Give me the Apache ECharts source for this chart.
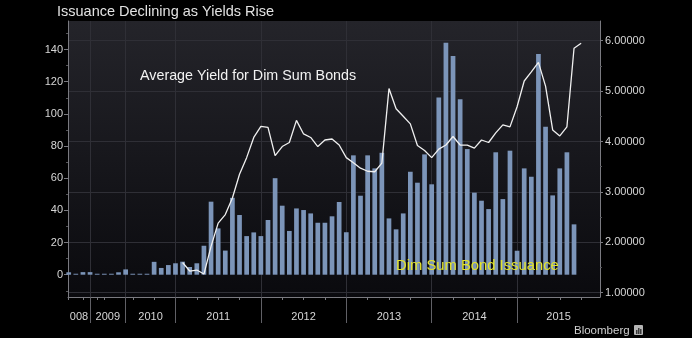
<!DOCTYPE html>
<html>
<head>
<meta charset="utf-8">
<script src="https://cdn.jsdelivr.net/npm/echarts@6/dist/echarts.min.js"></script>
<style>
  html, body { margin: 0; padding: 0; background: #000; }
  #chart { width: 692px; height: 338px; }
</style>
</head>
<body>
<div id="chart"></div>
<script>
// Months that carry data, in plotting order (one slot per month, gaps skipped)
const months = [
  '2008-07', '2008-09', '2008-10',
  '2009-01', '2009-04', '2009-07', '2009-09', '2009-11',
  '2010-01', '2010-04', '2010-05', '2010-06', '2010-07', '2010-09', '2010-11',
  '2011-01', '2011-02', '2011-03', '2011-04', '2011-05', '2011-06', '2011-07', '2011-08', '2011-09', '2011-10', '2011-11', '2011-12',
  '2012-01', '2012-02', '2012-03', '2012-04', '2012-05', '2012-06', '2012-07', '2012-08', '2012-09', '2012-10', '2012-11', '2012-12',
  '2013-01', '2013-02', '2013-03', '2013-04', '2013-05', '2013-06', '2013-07', '2013-08', '2013-09', '2013-10', '2013-11', '2013-12',
  '2014-01', '2014-02', '2014-03', '2014-04', '2014-05', '2014-06', '2014-07', '2014-08', '2014-09', '2014-10', '2014-11', '2014-12',
  '2015-01', '2015-02', '2015-03', '2015-04', '2015-05', '2015-06', '2015-07', '2015-08', '2015-09', '2015-10', '2015-11', '2015-12'
];

// Dim sum bond issuance per month, starting at months[0]
const issuance = [
  1.5, 0.6, 1.6,
  1.6, 0.6, 0.6, 0.6, 1.5,
  3.3, 0.6, 0.6, 0.6, 8.0, 4.2, 6.0,
  7.1, 8.1, 4.8, 7.1, 18, 45.4, 28.8, 15, 47.8, 37.1, 24, 26.3,
  24, 34, 60, 42.9, 27.2, 41.2, 40.2, 38.1, 32.3, 32.3, 36.3, 45.2,
  26.4, 74.2, 49.1, 74.2, 66.1, 75.8, 35, 28.2, 38.1, 64, 57.2, 74.8,
  56.2, 110.2, 144.2, 135.9, 109, 78.1, 51, 46, 40.8, 76.1, 47, 77.1,
  14.9, 66.1, 60.9, 137.2, 92, 49.3, 66.1, 76.1, 31.3
];

// Average yield for dim sum bonds (%), monthly from yieldStart
const yieldStart = '2011-02';
const yieldValues = [
  1.60, 1.43, 1.45, 1.37, 1.92, 2.38, 2.55, 2.88, 3.35, 3.68, 4.08,
  4.30, 4.28, 3.72, 3.90, 3.98, 4.42, 4.15, 4.08, 3.90, 4.03, 4.05, 3.93,
  3.68, 3.58, 3.47, 3.41, 3.40, 3.57, 5.05, 4.65, 4.50, 4.35, 3.92, 3.82,
  3.68, 3.85, 3.93, 4.10, 3.93, 3.93, 3.87, 4.03, 3.98, 4.17, 4.33, 4.29,
  4.69, 5.20, 5.38, 5.57, 5.10, 4.23, 4.11, 4.29, 5.85, 5.95
];

// Tick labels
const issuanceTicks = [0, 20, 40, 60, 80, 100, 120, 140];
const issuanceMinorTicks = [-10, 10, 30, 50, 70, 90, 110, 130, 150];
const yieldTicks = [1, 2, 3, 4, 5, 6];
const yieldMinorTicks = [1.5, 2.5, 3.5, 4.5, 5.5];

// ---- derived axis helpers ----
const X_MIN = -0.1, X_MAX = 74.65;

const yearStarts = [];
const quarterTicks = [];
months.forEach((m, i) => {
  const mm = m.slice(5);
  if (mm === '01') yearStarts.push(i);
  else if (mm === '04' || mm === '07' || mm === '10') quarterTicks.push(i);
});

const years = [...new Set(months.map(m => m.slice(0, 4)))];
const yearLabelAt = new Map();
years.forEach((y, k) => {
  const first = months.findIndex(m => m.startsWith(y));
  const startsInAxis = months[first].slice(5) === '01';
  const s = startsInAxis ? first : X_MIN;
  const nextIdx = months.findIndex(m => m.startsWith(years[k + 1] || '9999'));
  const e = nextIdx >= 0 ? nextIdx : X_MAX;
  // the first year is cut by the left edge of the plot
  const text = startsInAxis ? y : y.slice(1);
  yearLabelAt.set(((s + e) / 2).toFixed(3), text);
});
const yearLabelPos = [...yearLabelAt.keys()].map(Number);

const barData = issuance.map((v, i) => [i, v]);
const y0 = months.indexOf(yieldStart);
const lineData = yieldValues.map((v, k) => [y0 + k, v]);

const FONT = 'Liberation Sans, Arial, sans-serif';
const AXIS_LINE = '#7a7a80';
const GRID_LINE = '#2f2f36';

const chart = echarts.init(document.getElementById('chart'), null, { renderer: 'canvas' });

chart.setOption({
  backgroundColor: '#000000',
  animation: false,
  textStyle: { fontFamily: FONT },
  grid: {
    left: 68, right: 92, top: 21, bottom: 41,
    show: true, borderWidth: 0,
    backgroundColor: new echarts.graphic.LinearGradient(0, 0, 0, 1, [
      { offset: 0, color: '#24242a' },
      { offset: 1, color: '#0a0a0e' }
    ])
  },
  xAxis: [
    {
      type: 'value', min: X_MIN, max: X_MAX, position: 'bottom',
      axisLine: { show: true, onZero: false, lineStyle: { color: AXIS_LINE, width: 1 } },
      axisTick: { show: true, customValues: yearStarts, length: 26, lineStyle: { color: '#606066' } },
      axisLabel: {
        customValues: yearLabelPos,
        formatter: v => yearLabelAt.get(Number(v).toFixed(3)) || '',
        color: '#d6d6d6', fontSize: 11, margin: 14, fontFamily: FONT
      },
      splitLine: { show: true, lineStyle: { color: GRID_LINE, width: 1 } }
    },
    {
      type: 'value', min: X_MIN, max: X_MAX, position: 'bottom',
      axisLine: { show: false, onZero: false },
      axisTick: { show: true, customValues: quarterTicks, length: 3, lineStyle: { color: AXIS_LINE } },
      axisLabel: { show: false },
      splitLine: { show: false }
    }
  ],
  yAxis: [
    {
      type: 'value', position: 'left', min: -13.86, max: 157.72,
      axisLine: { show: true, onZero: false, lineStyle: { color: AXIS_LINE } },
      axisTick: { show: true, customValues: issuanceTicks, length: 4, lineStyle: { color: AXIS_LINE } },
      axisLabel: { customValues: issuanceTicks, color: '#d6d6d6', fontSize: 11, margin: 5, fontFamily: FONT },
      splitLine: { show: false }
    },
    {
      type: 'value', position: 'right', min: 0.9147, max: 6.391,
      axisLine: { show: true, onZero: false, lineStyle: { color: AXIS_LINE } },
      axisTick: { show: true, customValues: yieldTicks, length: 3, lineStyle: { color: AXIS_LINE } },
      axisLabel: {
        customValues: yieldTicks, formatter: v => Number(v).toFixed(5),
        color: '#d6d6d6', fontSize: 11, margin: 5, fontFamily: FONT
      },
      splitLine: { show: true, lineStyle: { color: GRID_LINE, width: 1 } }
    },
    {
      type: 'value', position: 'left', min: -13.86, max: 157.72,
      axisLine: { show: false, onZero: false },
      axisTick: { show: true, customValues: issuanceMinorTicks, length: 2, lineStyle: { color: '#55555a' } },
      axisLabel: { show: false }, splitLine: { show: false }
    },
    {
      type: 'value', position: 'right', min: 0.9147, max: 6.391,
      axisLine: { show: false, onZero: false },
      axisTick: { show: true, customValues: yieldMinorTicks, length: 2, lineStyle: { color: '#55555a' } },
      axisLabel: { show: false }, splitLine: { show: false }
    }
  ],
  series: [
    {
      name: 'Dim Sum Bond Issuance',
      type: 'bar', xAxisIndex: 0, yAxisIndex: 0,
      data: barData, barWidth: 4.7,
      itemStyle: { color: '#7c95b9' },
      z: 2
    },
    {
      name: 'Average Yield for Dim Sum Bonds',
      type: 'line', xAxisIndex: 0, yAxisIndex: 1,
      data: lineData, symbol: 'none',
      lineStyle: { color: '#f0f0f0', width: 1.3 },
      z: 3
    }
  ],
  graphic: [
    {
      type: 'text', left: 57, top: 4, z: 100,
      style: { text: 'Issuance Declining as Yields Rise', fill: '#e2e2e2', font: '14.5px ' + FONT }
    },
    {
      type: 'text', left: 140, top: 69, z: 100,
      style: { text: 'Average Yield for Dim Sum Bonds', fill: '#f2f2f2', font: '14.3px ' + FONT }
    },
    {
      type: 'text', left: 396, top: 258, z: 100,
      style: { text: 'Dim Sum Bond Issuance', fill: '#e4e42c', font: '14.8px ' + FONT }
    },
    {
      type: 'text', left: 574, top: 325, z: 100,
      style: { text: 'Bloomberg', fill: '#cfcfcf', font: '11.5px ' + FONT }
    },
    {
      type: 'group', left: 634, top: 325, z: 100,
      children: [
        { type: 'rect', z: 100, shape: { x: 0, y: 0, width: 9, height: 10, r: 1 }, style: { fill: '#b5b5b5' } },
        { type: 'rect', z: 101, shape: { x: 2, y: 5, width: 1.5, height: 4 }, style: { fill: '#3a3a3a' } },
        { type: 'rect', z: 101, shape: { x: 4, y: 3, width: 1.5, height: 6 }, style: { fill: '#3a3a3a' } },
        { type: 'rect', z: 101, shape: { x: 6, y: 4, width: 1.5, height: 5 }, style: { fill: '#3a3a3a' } }
      ]
    }
  ]
});
</script>
</body>
</html>
